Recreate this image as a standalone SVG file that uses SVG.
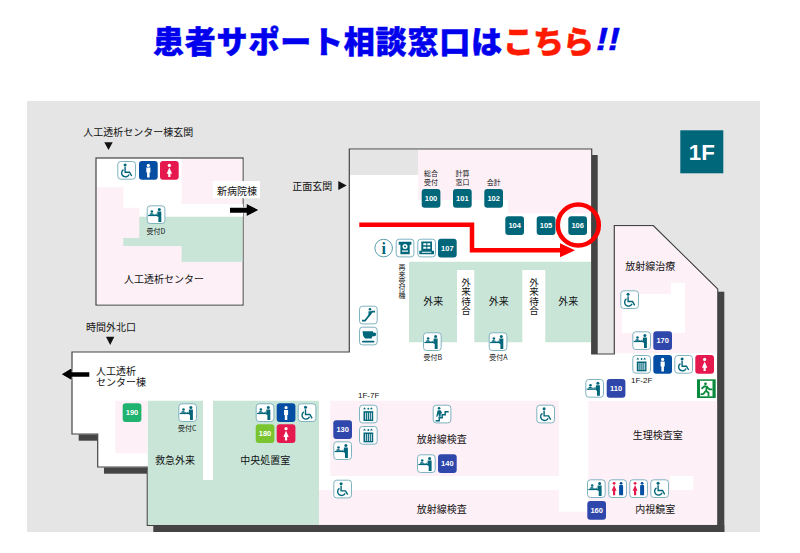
<svg xmlns="http://www.w3.org/2000/svg" width="800" height="553" viewBox="0 0 800 553">
<style>
text{font-family:"Noto Sans CJK JP","Noto Sans",sans-serif;fill:#111;dominant-baseline:central;text-anchor:middle}
.l{font-size:10px}
.s{font-size:7px}
.st{text-anchor:start}
.v{writing-mode:vertical-rl}
.t{font-family:"Liberation Sans",sans-serif;font-size:7.5px;font-weight:700;fill:#fff}
.pk{fill:#fdf0f7}
.gr{fill:#c8e5d8}
.wh{fill:#fff}
.dk{fill:#444}
.out{fill:#fff;stroke:#444;stroke-width:1.2}
.fr{fill:#fff;stroke:#7fb3bf;stroke-width:1}
.te{fill:#00667a}
.tes{fill:none;stroke:#00667a;stroke-width:1.4}
.ttl{font-size:31px;font-weight:900;stroke-width:.5}
</style>
<defs>
<g id="i-rec"><rect class="fr" x=".5" y=".5" width="17.7" height="17.7" rx="3"/><circle class="te" cx="12.6" cy="4.2" r="1.5"/><path class="te" d="M10.6 6.2h4v10.5h-2.9v-5.2h-1.1z"/><circle class="te" cx="5.2" cy="6.2" r="1.3"/><path class="te" d="M2.8 9.4q0-1.7 2.2-1.7l3 1.4 2.2-1v1.3z"/><rect class="te" x="1.4" y="9.6" width="10.4" height="1.2"/></g>
<g id="i-wc"><rect class="fr" x=".5" y=".5" width="17.7" height="17.7" rx="3"/><circle class="te" cx="7.8" cy="4" r="1.5"/><path class="tes" d="M7.8 6v5.2h4.4l2.2 3.8"/><path class="tes" d="M6.2 8.6a3.9 3.9 0 1 0 5.6 4.9"/></g>
<g id="i-man"><rect fill="#034ea2" width="18.7" height="18.7" rx="3"/><circle class="wh" cx="9.35" cy="4.4" r="1.6"/><path class="wh" d="M7.3 6.600h4.100v5h-.8v5h-2.500v-5h-.8z"/></g>
<g id="i-wom"><rect fill="#e6194f" width="18.7" height="18.7" rx="3"/><circle class="wh" cx="9.35" cy="4.4" r="1.6"/><path class="wh" d="M9.35 6.4l2.7 6.3h-1.6v3.4h-2.2v-3.4h-1.6z"/></g>
<g id="i-ev"><rect class="fr" x=".5" y=".5" width="17.7" height="17.7" rx="3"/><path class="te" d="M5.5 2.5l1.4 2h-2.8zM11 4.500l1.400-2 1.400 2z"/><circle class="te" cx="9.3" cy="4" r=".9"/><rect class="te" x="4.5" y="6.5" width="9.7" height="9.8"/><path d="M6.6 8v7M8.6 8v7M10.6 8v7M12.4 8v7" stroke="#fff" stroke-width=".8"/></g>
<g id="i-esc"><rect class="fr" x=".5" y=".5" width="17.7" height="17.7" rx="3"/><path class="tes" style="stroke-width:1.8" d="M3 15h3l7-9h3"/><circle class="te" cx="11" cy="3.6" r="1.3"/><path class="te" d="M9.5 5.5h2.500v3.200l-2.500 2.800z"/></g>
<g id="i-st"><rect class="fr" x=".5" y=".5" width="17.7" height="17.7" rx="3"/><path class="tes" d="M3 16h3.500v-3h3v-3h3v-3h3.500"/><circle class="te" cx="6.400" cy="3.600" r="1.300"/><path class="te" d="M5 5.500h3l1.500 3-1.500 .5v3H6v-3L4.500 12H3.500z"/></g>
<g id="i-cf"><rect class="fr" x=".5" y=".5" width="17.7" height="17.7" rx="3"/><path class="te" d="M3.500 4.500h10.500v1.200h1.500q1.600 0 1.600 1.900t-1.600 2h-2l-1 2.300H6q-2.500-2.500-2.500-7.400z"/><rect class="te" x="3" y="14" width="12.500" height="1.800" rx=".9"/></g>
<g id="i-if"><circle cx="9.35" cy="9.35" r="8.8" fill="#fff" stroke="#5c9cab"/><text x="9.35" y="9.6" style="font-family:'Liberation Serif',serif;font-size:16px;font-weight:700;fill:#00667a">i</text></g>
<g id="i-mc"><rect class="fr" x=".5" y=".5" width="17.7" height="17.7" rx="3"/><path class="te" d="M3 3h12.700v3h-1.700v9.500H4.700V6H3z"/><circle cx="9.35" cy="7.800" r="2.500" fill="#fff"/><circle class="te" cx="9.35" cy="7.800" r="1"/><rect class="wh" x="6.300" y="11.800" width="6" height="1.200"/></g>
<g id="i-mc2"><rect class="fr" x=".5" y=".5" width="17.7" height="17.7" rx="3"/><path class="te" d="M4 2.800h10.700v9.200h2v3.500H2v-3.500h2z"/><path class="wh" d="M6 4.500h3v2H6zM10 4.500h3v2h-3zM6 8h3v2H6zM10 8h3v2h-3zM4.500 13h9.500v1H4.500z"/></g>
<g id="i-rr"><rect class="fr" x=".5" y=".5" width="17.7" height="17.700" rx="3"/><circle fill="#e6194f" cx="5.800" cy="4" r="1.400"/><path fill="#e6194f" d="M5.800 5.800l2.400 5.700H6.900v4.500H4.700v-4.500H3.400z"/><circle fill="#034ea2" cx="12.800" cy="4" r="1.400"/><rect fill="#034ea2" x="10.800" y="5.800" width="4" height="10.200" rx=".9"/></g>
<g id="i-ex"><rect fill="#0a8a3c" width="18.700" height="18.700"/><rect class="wh" x="3" y="1.500" width="12.500" height="15.500"/><circle fill="#0a8a3c" cx="8.500" cy="4.500" r="1.400"/><path fill="none" stroke="#0a8a3c" stroke-width="1.800" d="M4.500 9.500l3-2.500 2.500 .5-1 4 2.500 2v3.500M8.500 12l-2 2.500-3 .5M10 8l2.500 2h3"/></g>
<rect id="tile-shape" width="18.700" height="18.700" rx="3"/>
</defs>

<rect width="800" height="553" fill="#fff"/>
<rect x="27" y="101" width="733" height="431" fill="#e5e5e5"/>

<g id="title">
<text class="ttl" x="153" y="39" style="text-anchor:start;fill:#0000ee;stroke:#0000ee" textLength="349" lengthAdjust="spacing">患者サポート相談窓口は</text>
<text class="ttl" x="503" y="39" style="text-anchor:start;fill:#ff1a00;stroke:#ff1a00" textLength="91" lengthAdjust="spacing">こちら</text>
<text x="596" y="39" style="text-anchor:start;font-family:'Liberation Sans',sans-serif;font-size:31px;font-weight:700;font-style:italic;fill:#0000ee;stroke:#0000ee;stroke-width:.5" textLength="24" lengthAdjust="spacingAndGlyphs">!!</text>
</g>

<g id="floor-badge"><rect x="680.300" y="130.300" width="43" height="43" fill="#00667a"/><text x="701.800" y="152.300" style="font-family:'Liberation Sans',sans-serif;font-size:22px;font-weight:700;fill:#fff" textLength="26" lengthAdjust="spacingAndGlyphs">1F</text></g>

<g id="shadows">
<rect class="dk" x="591.700" y="155" width="6" height="199"/>
<rect class="dk" x="718" y="291.700" width="6.300" height="240.300"/>
<rect class="dk" x="153.300" y="525" width="571" height="7"/>
<rect class="dk" x="78.700" y="434.500" width="19" height="6.200"/>
<rect class="dk" x="104" y="467.500" width="43.300" height="6.200"/>
</g>

<g id="dialysis-building">
<rect class="out" x="96" y="158" width="147" height="147"/>
<rect class="pk" x="97" y="159" width="145.400" height="145.400"/>
<path class="wh" d="M97 159H181.700V204H243V216.700H139.300V207.700H123.300V187.300H97z"/>
<path class="gr" d="M139.300 216.700H242.400V261.700H181.700V246H123.300V238H139.300z"/>
</g>

<g id="main-building">
<path class="out" d="M349.300 149H591.700V354H614.300V225.700H653.300L717.700 289V525.300H147.300V467H97.700V434H72V352H349.300z"/>
<rect x="350" y="150" width="68" height="25" fill="#e5e5e5"/>
<path class="pk" d="M418 150H591V213.300H508V200H418z"/>
<path class="gr" d="M409 261.700H591V342.300H545.300V270H522.300V342.300H474.300V270H457V342.300H409z"/>
<path class="pk" d="M115.300 400.700H147.300V453.300H115.300z"/>
<path class="gr" d="M147.800 400.700H203V480H213V400.700H319V524.700H147.800z"/>
<rect class="pk" x="330.300" y="400.700" width="228.700" height="75.300"/>
<path class="pk" d="M319 490H559V511.700H588.300V401H717.100V524.700H319z"/>
<path class="wh" d="M670 476H693.300V490H670z"/>
<path class="pk" d="M615 226.500H653L717.100 289.500V353.300H615z"/>
<path class="wh" d="M671 282.700H685V332.700H621.700V294H671z"/>
</g>

<g id="routes">
<path d="M359.300 224.700H472V250.300H562" fill="none" stroke="#f00" stroke-width="4.500"/>
<path d="M560 243.300L575 250.300L560 257.300z" fill="#f00"/>
<circle cx="578.300" cy="225" r="20.500" fill="none" stroke="#f00" stroke-width="4.500"/>
<g fill="#000" stroke="#fff" stroke-width="1" paint-order="stroke">
<path d="M230 207.700H246.700V204L258.300 210L246.700 216V212.700H230z"/>
<path d="M89.300 372.300H71.700V368.300L61.700 374.300L71.700 380V376.700H89.300z"/>
</g>
</g>

<g id="entrance-labels">
<text class="l st" x="83.300" y="131">人工透析センター棟玄関</text>
<path d="M104.300 142.300H112.700L108.500 150z" fill="#111"/>
<text class="l st" x="292.300" y="185">正面玄関</text>
<path d="M338.300 181L346.700 185.500L338.300 190z" fill="#111"/>
<text class="l st" x="86" y="326">時間外北口</text>
<path d="M106 336.700H114.300L110.200 345z" fill="#111"/>
<rect class="wh" x="212.700" y="181" width="47.300" height="17.300"/>
<text class="l" x="237" y="190">新病院棟</text>
<text class="l st" x="96" y="370.700">人工透析<tspan x="96" dy="10.600">センター棟</tspan></text>
</g>

<g id="room-labels">
<text class="l" x="164" y="278.300">人工透析センター</text>
<text class="s" x="431" y="172.700">総合<tspan x="431" dy="9">受付</tspan></text>
<text class="s" x="462.500" y="172.700">計算<tspan x="462.500" dy="9">窓口</tspan></text>
<text class="s" x="493.700" y="182">会計</text>
<text class="s v" x="402" y="281">再来受付機</text>
<text class="l v" x="466" y="296.500" style="font-size:9.500px">外来待合</text>
<text class="l v" x="534" y="296.500" style="font-size:9.500px">外来待合</text>
<text class="l" x="433.300" y="300">外来</text><text class="l" x="498.700" y="300">外来</text><text class="l" x="568.300" y="300">外来</text>
<text class="s" x="432.700" y="357.300">受付B</text>
<text class="s" x="498.300" y="357.300">受付A</text>
<text class="s" x="156" y="230.700">受付D</text>
<text class="s" x="187.300" y="428.300">受付C</text>
<text class="l" x="175" y="459.300">救急外来</text>
<text class="l" x="265.300" y="459.300">中央処置室</text>
<text class="s" x="368.700" y="395.700" style="font-family:'Liberation Sans',sans-serif;font-size:8px">1F-7F</text>
<text class="l" x="441.700" y="438.300">放射線検査</text>
<text class="l" x="441.700" y="508.300">放射線検査</text>
<text class="l" x="650.300" y="265">放射線治療</text>
<text class="s" x="641.700" y="380" style="font-family:'Liberation Sans',sans-serif;font-size:8px">1F-2F</text>
<text class="l" x="657.700" y="434">生理検査室</text>
<text class="l" x="655.300" y="508.700">内視鏡室</text>
</g>

<g id="tiles">
<g id="t100" transform="translate(421.700 189)"><use href="#tile-shape" fill="#00667a"/><text class="t" x="9.350" y="9.350">100</text></g>
<g id="t101" transform="translate(453 189)"><use href="#tile-shape" fill="#00667a"/><text class="t" x="9.350" y="9.350">101</text></g>
<g id="t102" transform="translate(484.300 189)"><use href="#tile-shape" fill="#00667a"/><text class="t" x="9.350" y="9.350">102</text></g>
<g id="t104" transform="translate(505.300 216.300)"><use href="#tile-shape" fill="#00667a"/><text class="t" x="9.350" y="9.350">104</text></g>
<g id="t105" transform="translate(536.700 216.300)"><use href="#tile-shape" fill="#00667a"/><text class="t" x="9.350" y="9.350">105</text></g>
<g id="t106" transform="translate(568.300 216.300)"><use href="#tile-shape" fill="#00667a"/><text class="t" x="9.350" y="9.350">106</text></g>
<g id="t107" transform="translate(438 238.700)"><use href="#tile-shape" fill="#00667a"/><text class="t" x="9.350" y="9.350">107</text></g>
<g id="t110" transform="translate(606.700 379)"><use href="#tile-shape" fill="#2f46ab"/><text class="t" x="9.350" y="9.350">110</text></g>
<g id="t130" transform="translate(333.300 420.300)"><use href="#tile-shape" fill="#2f46ab"/><text class="t" x="9.350" y="9.350">130</text></g>
<g id="t140" transform="translate(438 454.300)"><use href="#tile-shape" fill="#2f46ab"/><text class="t" x="9.350" y="9.350">140</text></g>
<g id="t160" transform="translate(587.300 501)"><use href="#tile-shape" fill="#2f46ab"/><text class="t" x="9.350" y="9.350">160</text></g>
<g id="t170" transform="translate(653.300 331.300)"><use href="#tile-shape" fill="#2f46ab"/><text class="t" x="9.350" y="9.350">170</text></g>
<g id="t180" transform="translate(255.700 424.300)"><use href="#tile-shape" fill="#7ac52f"/><text class="t" x="9.350" y="9.350">180</text></g>
<g id="t190" transform="translate(122.700 403.300)"><use href="#tile-shape" fill="#1fb36f"/><text class="t" x="9.350" y="9.350">190</text></g>
</g>

<g id="icons">
<use href="#i-wc" x="117.300" y="161"/><use href="#i-man" x="139" y="161"/><use href="#i-wom" x="160" y="161"/>
<use href="#i-rec" x="146.700" y="205.300"/>
<use href="#i-if" x="374.300" y="238.700"/><use href="#i-mc" x="395.700" y="238.700"/><use href="#i-mc2" x="417.300" y="238.700"/>
<use href="#i-esc" x="359" y="305.700"/><use href="#i-cf" x="359" y="326.700"/>
<use href="#i-rec" x="423" y="332.300"/><use href="#i-rec" x="488.700" y="332.300"/>
<use href="#i-rec" x="178.300" y="403.300"/>
<use href="#i-rec" x="255.700" y="403.300"/><use href="#i-man" x="276.700" y="403.300"/><use href="#i-wc" x="297.700" y="403.300"/><use href="#i-wom" x="276.700" y="424.300"/>
<use href="#i-ev" x="359" y="404.700"/><use href="#i-ev" x="359" y="426"/>
<use href="#i-rec" x="333.300" y="441.300"/>
<use href="#i-st" x="432.700" y="404.700"/><use href="#i-wc" x="536.300" y="404.700"/>
<use href="#i-rec" x="417" y="454.300"/>
<use href="#i-wc" x="333.300" y="479.700"/>
<use href="#i-rec" x="587" y="479.300"/><use href="#i-rr" x="608.300" y="479.300"/><use href="#i-rr" x="629.300" y="479.300"/><use href="#i-wc" x="650.300" y="479.300"/>
<use href="#i-wc" x="620.300" y="290.300"/>
<use href="#i-rec" x="632.300" y="331.300"/>
<use href="#i-ev" x="632.300" y="355"/><use href="#i-man" x="653.300" y="355"/><use href="#i-wc" x="674.300" y="355"/><use href="#i-wom" x="695.300" y="355"/>
<use href="#i-rec" x="585.300" y="379"/><use href="#i-ex" x="697" y="379.300"/>
</g>
</svg>
